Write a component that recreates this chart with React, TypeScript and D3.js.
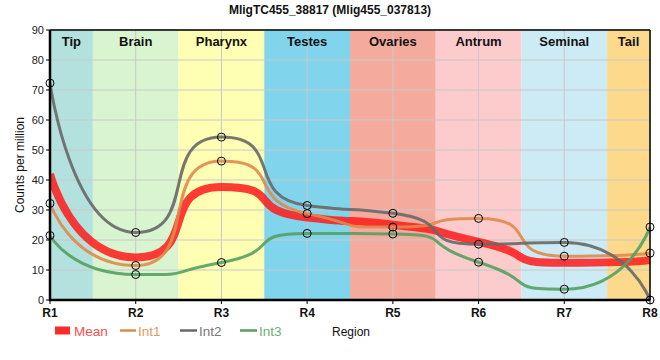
import React from "react";
import * as d3 from "d3";

const regions = ["R1", "R2", "R3", "R4", "R5", "R6", "R7", "R8"];
const meanVals = [42.0, 14.2, 37.7, 27.5, 25.1, 19.4, 12.4, 13.3];
const int1Vals = [32.2, 11.5, 46.3, 28.8, 24.3, 27.2, 14.6, 15.6];
const int2Vals = [72.3, 22.5, 54.3, 31.5, 28.9, 18.6, 19.2, 0];
const int3Vals = [21.5, 8.5, 12.5, 22.2, 22.0, 12.6, 3.6, 24.3];
const tissues = ["Tip", "Brain", "Pharynx", "Testes", "Ovaries", "Antrum", "Seminal", "Tail"];
const tissueColors = ["#b3e2de", "#d9f5d0", "#ffffb3", "#80d4ec", "#f4ab9e", "#fccbcb", "#cdebf5", "#fdd98b"];
const yTicks = [0, 10, 20, 30, 40, 50, 60, 70, 80, 90];

const W = 660, H = 360;
const left = 50, right = 650, top = 30, bottom = 300;
const FONT = "'Liberation Sans', Arial, sans-serif";

type P = { x: number; y: number };

// Spline with long horizontal-ish control handles, flattened at extremes
function splinePath(pts: P[]): string {
  const sm = 1 / 3, den = sm + 1;
  const path = d3.path();
  const lc: (P | null)[] = [];
  const rc: (P | null)[] = [];
  pts.forEach((p, i) => {
    const a = pts[i - 1], b = pts[i + 1];
    if (!a || !b) { lc.push(null); rc.push(null); return; }
    const lx = (sm * p.x + a.x) / den;
    let ly = (sm * p.y + a.y) / den;
    const rx = (sm * p.x + b.x) / den;
    let ry = (sm * p.y + b.y) / den;
    let corr = 0;
    if (rx !== lx) corr = ((ry - ly) * (rx - p.x)) / (rx - lx) + p.y - ry;
    ly += corr; ry += corr;
    if (ly > a.y && ly > p.y) { ly = Math.max(a.y, p.y); ry = 2 * p.y - ly; }
    else if (ly < a.y && ly < p.y) { ly = Math.min(a.y, p.y); ry = 2 * p.y - ly; }
    if (ry > b.y && ry > p.y) { ry = Math.max(b.y, p.y); ly = 2 * p.y - ry; }
    else if (ry < b.y && ry < p.y) { ry = Math.min(b.y, p.y); ly = 2 * p.y - ry; }
    lc.push({ x: lx, y: ly });
    rc.push({ x: rx, y: ry });
  });
  pts.forEach((p, i) => {
    if (i === 0) { path.moveTo(p.x, p.y); return; }
    const prev = pts[i - 1];
    const c1 = rc[i - 1] || prev;
    const c2 = lc[i] || p;
    path.bezierCurveTo(c1.x, c1.y, c2.x, c2.y, p.x, p.y);
  });
  return path.toString();
}

export default function App() {
  const x = d3.scalePoint<string>().domain(regions).range([left, right]);
  const y = d3.scaleLinear().domain([0, 90]).range([bottom, top]);
  const step = x.step();
  const toPts = (vals: number[]): P[] => vals.map((v, i) => ({ x: x(regions[i]) as number, y: y(v) }));

  const series = [
    { name: "Int1", vals: int1Vals, color: "#df8a4c", width: 3 },
    { name: "Int2", vals: int2Vals, color: "#686868", width: 3 },
    { name: "Int3", vals: int3Vals, color: "#55a062", width: 3 },
  ];

  return (
    <svg width={W} height={H} style={{ position: "absolute", left: 0, top: 0, fontFamily: FONT }}>
      <defs>
        <clipPath id="plot">
          <rect x={left} y={top - 5} width={right - left + 5} height={bottom - top + 10} />
        </clipPath>
      </defs>
      {/* bands */}
      {tissues.map((t, i) => {
        const cx = x(regions[i]) as number;
        const x0 = Math.max(left, cx - step / 2);
        const x1 = Math.min(right, cx + step / 2);
        return <rect key={t} x={x0} y={top} width={x1 - x0} height={bottom - top} fill={tissueColors[i]} />;
      })}
      {/* grid */}
      {yTicks.map((t) => (
        <line key={"gy" + t} x1={left} x2={right} y1={y(t)} y2={y(t)} stroke="#c8c8c8" strokeWidth={1} />
      ))}
      {regions.map((r) => (
        <line key={"gx" + r} x1={x(r)} x2={x(r)} y1={top} y2={bottom} stroke="#c8c8c8" strokeWidth={1} />
      ))}
      {/* band labels */}
      {tissues.map((t, i) => {
        const cx = x(regions[i]) as number;
        const x0 = Math.max(left, cx - step / 2);
        const x1 = Math.min(right, cx + step / 2);
        return (
          <text key={"l" + t} x={(x0 + x1) / 2} y={46} textAnchor="middle" fontSize={13} fontWeight="bold" fill="#111">
            {t}
          </text>
        );
      })}
      {/* lines */}
      <g clipPath="url(#plot)">
        <path d={splinePath(toPts(meanVals))} fill="none" stroke="#ff1a1a" strokeOpacity={0.85} strokeWidth={8} />
        {series.map((s) => (
          <path key={s.name} d={splinePath(toPts(s.vals))} fill="none" stroke={s.color} strokeOpacity={0.9} strokeWidth={s.width} />
        ))}
      </g>
      {/* border */}
      <line x1={left} x2={right} y1={top} y2={top} stroke="#000" strokeWidth={1.5} />
      <line x1={right} x2={right} y1={top} y2={bottom} stroke="#000" strokeWidth={1.5} />
      <line x1={left} x2={left} y1={top} y2={bottom + 1} stroke="#000" strokeWidth={2.5} />
      <line x1={left - 1} x2={right} y1={bottom} y2={bottom} stroke="#000" strokeWidth={2.5} />
      {/* points */}
      {series.map((s) =>
        s.vals.map((v, i) => (
          <circle key={s.name + i} cx={x(regions[i])} cy={y(v)} r={4} fill="none" stroke="#000" strokeWidth={1} />
        ))
      )}
      {/* y axis ticks */}
      {yTicks.map((t) => (
        <g key={"yt" + t}>
          <line x1={left - 4} x2={left} y1={y(t)} y2={y(t)} stroke="#000" />
          <text x={left - 6} y={y(t) + 4} textAnchor="end" fontSize={11} fill="#222">
            {t}
          </text>
        </g>
      ))}
      {/* x axis ticks */}
      {regions.map((r) => (
        <g key={"xt" + r}>
          <line x1={x(r)} x2={x(r)} y1={bottom} y2={bottom + 4} stroke="#000" />
          <text x={x(r)} y={bottom + 17} textAnchor="middle" fontSize={12} fontWeight="bold" fill="#111">
            {r}
          </text>
        </g>
      ))}
      {/* axis labels */}
      <text x={351} y={336} textAnchor="middle" fontSize={12} fill="#111">Region</text>
      <text transform={`translate(24,${(top + bottom) / 2}) rotate(-90)`} textAnchor="middle" fontSize={12} fill="#111">
        Counts per million
      </text>
      {/* title */}
      <text x={330} y={14} textAnchor="middle" fontSize={12} fontWeight="bold" fill="#111">
        MligTC455_38817 (Mlig455_037813)
      </text>
      {/* legend */}
      <g fontSize={13.5}>
        <rect x={55} y={326.5} width={15} height={8} fill="#ff2a2a" />
        <text x={74} y={335.5} fill="#ff4d4d">Mean</text>
        <line x1={120} x2={136} y1={330.5} y2={330.5} stroke="#df8a4c" strokeWidth={2.5} />
        <text x={138} y={335.5} fill="#e49a62">Int1</text>
        <line x1={180} x2={197} y1={330.5} y2={330.5} stroke="#686868" strokeWidth={2.5} />
        <text x={199} y={335.5} fill="#777">Int2</text>
        <line x1={240} x2={257} y1={330.5} y2={330.5} stroke="#55a062" strokeWidth={2.5} />
        <text x={259} y={335.5} fill="#6aae78">Int3</text>
      </g>
    </svg>
  );
}
